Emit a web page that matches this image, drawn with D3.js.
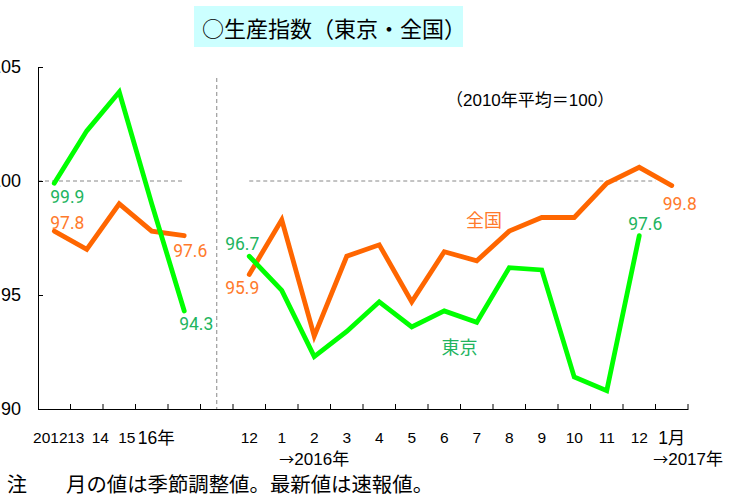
<!DOCTYPE html>
<html>
<head>
<meta charset="utf-8">
<script src="https://cdn.jsdelivr.net/npm/d3@7"></script>
<style>
    body { margin: 0; background: #fff; }
    .cjk { font-family: "Noto Sans CJK JP", sans-serif; }
</style>
</head>
<body>
<div id="chart"></div>
<script>
// categories (annual block, then monthly block)
const yearKeys = ["2012", "2013", "2014", "2015", "2016"];
const yearLabels = ["2012", "13", "14", "15", "16年"];
const monthKeys = ["2015-12", "2016-01", "2016-02", "2016-03", "2016-04", "2016-05", "2016-06",
    "2016-07", "2016-08", "2016-09", "2016-10", "2016-11", "2016-12", "2017-01"];
const monthLabels = ["12", "1", "2", "3", "4", "5", "6", "7", "8", "9", "10", "11", "12", "1月"];

// series values (2010 average = 100)
const tokyoYear = [99.9, 102.2, 103.9, 99.0, 94.3];
const zenkokuYear = [97.8, 97.0, 99.0, 97.8, 97.6];
const tokyoMonth = [96.7, 95.2, 92.3, 93.4, 94.7, 93.6, 94.3, 93.8, 96.2, 96.1, 91.4, 90.8, 97.6];
const zenkokuMonth = [95.9, 98.3, 93.2, 96.7, 97.2, 94.7, 96.9, 96.5, 97.8, 98.4, 98.4, 99.9, 100.6, 99.8];

// y axis
const yDomain = [90, 105];
const yTicks = [90, 95, 100, 105];

class ProductionChart {

    constructor(parentElement, dimCanvas) {
        this.parentElement = parentElement;
        this.dimCanvas = dimCanvas;

        this.initVis()
    }

    initVis() {
        let vis = this;

        vis.canvas = vis.dimCanvas;
        vis.margin = {top: 67, right: 44, bottom: 86, left: 38};
        vis.width = vis.canvas.width - vis.margin.left - vis.margin.right;
        vis.height = vis.canvas.height - vis.margin.top - vis.margin.bottom;

        vis.colors = {
            tokyoLine: "#00ff00", tokyoText: "#22b45e",
            zenkokuLine: "#ff6600", zenkokuText: "#ff7a2b"
        };

        vis.svg = d3.select(vis.parentElement)
            .append("svg")
            .attr("width", vis.canvas.width)
            .attr("height", vis.canvas.height);

        vis.chart = vis.svg.append("g")
            .attr("transform", "translate(" + vis.margin.left + "," + vis.margin.top + ")");

        // scales: one band per category, plus an empty band between the two blocks
        vis.keys = yearKeys.concat(["gap"], monthKeys);
        vis.labels = yearLabels.concat([""], monthLabels);
        vis.xScale = d3.scaleBand()
            .domain(vis.keys)
            .range([0, vis.width]);
        vis.yScale = d3.scaleLinear()
            .domain(yDomain)
            .range([vis.height, 0]);

        // title
        vis.svg.append("rect")
            .attr("x", 194).attr("y", 6)
            .attr("width", 269).attr("height", 41)
            .attr("fill", "#ccffff");
        vis.svg.append("text")
            .attr("class", "cjk")
            .attr("x", 202).attr("y", 27)
            .attr("dominant-baseline", "central")
            .attr("font-size", 22)
            .attr("fill", "#000")
            .text("○生産指数（東京・全国）");

        vis.svg.append("text")
            .attr("x", 446).attr("y", 100)
            .attr("dominant-baseline", "central")
            .attr("font-family", "'Liberation Sans', 'Noto Sans CJK JP', sans-serif")
            .attr("font-size", 17)
            .text("（2010年平均＝100）");

        // note
        vis.svg.append("text")
            .attr("class", "cjk")
            .attr("x", 7).attr("y", 483)
            .attr("dominant-baseline", "central")
            .attr("font-size", 20)
            .text("注");
        vis.svg.append("text")
            .attr("class", "cjk")
            .attr("x", 66).attr("y", 483)
            .attr("dominant-baseline", "central")
            .attr("font-size", 20.4)
            .text("月の値は季節調整値。最新値は速報値。");

        vis.updateVis();
    }

    updateVis() {
        let vis = this;
        let bw = vis.xScale.bandwidth();
        let cx = k => vis.xScale(k) + bw / 2;

        // reference lines
        vis.chart.append("line")
            .attr("x1", cx("gap")).attr("x2", cx("gap"))
            .attr("y1", 11).attr("y2", vis.height)
            .attr("stroke", "#888").attr("stroke-dasharray", "4,3");
        vis.chart.append("line")
            .attr("x1", 0).attr("x2", cx(yearKeys[4]))
            .attr("y1", vis.yScale(100)).attr("y2", vis.yScale(100))
            .attr("stroke", "#888").attr("stroke-dasharray", "4,3");
        vis.chart.append("line")
            .attr("x1", cx(monthKeys[0])).attr("x2", vis.xScale(monthKeys[13]))
            .attr("y1", vis.yScale(100)).attr("y2", vis.yScale(100))
            .attr("stroke", "#888").attr("stroke-dasharray", "4,3");

        // y axis, ticks pointing inward
        vis.yAxis = d3.axisLeft(vis.yScale)
            .tickValues(yTicks)
            .tickSizeInner(-5)
            .tickSizeOuter(0)
            .tickPadding(17);
        vis.chart.append("g")
            .attr("class", "y-axis")
            .call(vis.yAxis)
            .call(g => g.selectAll("text")
                .attr("font-family", "'Liberation Sans', sans-serif")
                .attr("font-size", 18)
                .attr("fill", "#000"));

        // x axis, labels on band centres, ticks on band edges
        let nudge = [-4, -11, -19, -25, -28];
        vis.xAxis = d3.axisBottom(vis.xScale)
            .tickSize(0)
            .tickSizeOuter(0)
            .tickPadding(22.5)
            .tickFormat((d, i) => vis.labels[i]);
        vis.chart.append("g")
            .attr("class", "x-axis")
            .attr("transform", "translate(0," + vis.height + ")")
            .call(vis.xAxis)
            .call(g => g.selectAll("text")
                .attr("font-family", "'Liberation Sans', 'Noto Sans CJK JP', sans-serif")
                .attr("font-size", (d, i) => /[年月]/.test(vis.labels[i]) ? 17.5 : 15.5)
                .attr("dx", (d, i) => i < nudge.length ? nudge[i] : 0)
                .attr("fill", "#000"));

        let edges = vis.keys.slice(1).map(k => vis.xScale(k)).concat([vis.width]);
        vis.chart.selectAll("line.x-tick")
            .data(edges)
            .enter()
            .append("line")
            .attr("class", "x-tick")
            .attr("x1", d => d).attr("x2", d => d)
            .attr("y1", vis.height).attr("y2", vis.height - 5)
            .attr("stroke", "#000");

        // year notes under the monthly block, arrow taken from the CJK font
        let yearNote = (x, anchor, year) => {
            let t = vis.svg.append("text")
                .attr("x", x)
                .attr("y", 465)
                .attr("text-anchor", anchor)
                .attr("font-family", "'Liberation Sans', 'Noto Sans CJK JP', sans-serif")
                .attr("font-size", 17);
            t.append("tspan").attr("font-family", "'Noto Sans CJK JP'").attr("font-size", 15).text("→");
            t.append("tspan").text(year + "年");
        };
        yearNote(vis.margin.left + cx(monthKeys[2]), "middle", "2016");
        yearNote(723, "end", "2017");

        // lines
        let line = d3.line()
            .x(d => cx(d.key))
            .y(d => vis.yScale(d.value));
        let zip = (keys, values) => values.map((v, i) => ({key: keys[i], value: v}));

        vis.series = [
            {points: zip(yearKeys, zenkokuYear), color: vis.colors.zenkokuLine},
            {points: zip(monthKeys, zenkokuMonth), color: vis.colors.zenkokuLine},
            {points: zip(yearKeys, tokyoYear), color: vis.colors.tokyoLine},
            {points: zip(monthKeys, tokyoMonth), color: vis.colors.tokyoLine}
        ];
        vis.chart.selectAll("path.series")
            .data(vis.series)
            .enter()
            .append("path")
            .attr("class", "series")
            .attr("d", d => line(d.points))
            .attr("fill", "none")
            .attr("stroke", d => d.color)
            .attr("stroke-width", 4.8)
            .attr("stroke-linejoin", "miter")
            .attr("stroke-linecap", "round");

        // value labels on first and last points
        let tk = vis.colors.tokyoText, zk = vis.colors.zenkokuText;
        let valueLabels = [
            {key: yearKeys[0], value: tokyoYear[0], color: tk, dx: -4, dy: 20, anchor: "start"},
            {key: yearKeys[0], value: zenkokuYear[0], color: zk, dx: -4, dy: -2, anchor: "start"},
            {key: yearKeys[4], value: zenkokuYear[4], color: zk, dx: 6, dy: 21, anchor: "middle"},
            {key: yearKeys[4], value: tokyoYear[4], color: tk, dx: 12, dy: 19, anchor: "middle"},
            {key: monthKeys[0], value: tokyoMonth[0], color: tk, dx: 10, dy: -6, anchor: "end"},
            {key: monthKeys[0], value: zenkokuMonth[0], color: zk, dx: 10, dy: 20, anchor: "end"},
            {key: monthKeys[12], value: tokyoMonth[12], color: tk, dx: 6, dy: -6, anchor: "middle"},
            {key: monthKeys[13], value: zenkokuMonth[13], color: zk, dx: 8, dy: 24, anchor: "middle"}
        ];
        vis.chart.selectAll("text.value")
            .data(valueLabels)
            .enter()
            .append("text")
            .attr("class", "value")
            .attr("x", d => cx(d.key) + d.dx)
            .attr("y", d => vis.yScale(d.value) + d.dy)
            .attr("text-anchor", d => d.anchor)
            .attr("font-family", "Roboto, sans-serif")
            .attr("font-size", 17.5)
            .attr("fill", d => d.color)
            .text(d => d.value.toFixed(1));

        // series names
        vis.chart.append("text")
            .attr("class", "cjk")
            .attr("x", vis.xScale(monthKeys[7]) + 23.5)
            .attr("y", vis.yScale(98))
            .attr("text-anchor", "middle")
            .attr("font-size", 18)
            .attr("fill", zk)
            .text("全国");
        vis.chart.append("text")
            .attr("class", "cjk")
            .attr("x", vis.xScale(monthKeys[7]) - 1)
            .attr("y", vis.yScale(92.4))
            .attr("text-anchor", "middle")
            .attr("font-size", 18)
            .attr("fill", tk)
            .text("東京");
    }
}

new ProductionChart("#chart", {width: 732, height: 495});
</script>
</body>
</html>
